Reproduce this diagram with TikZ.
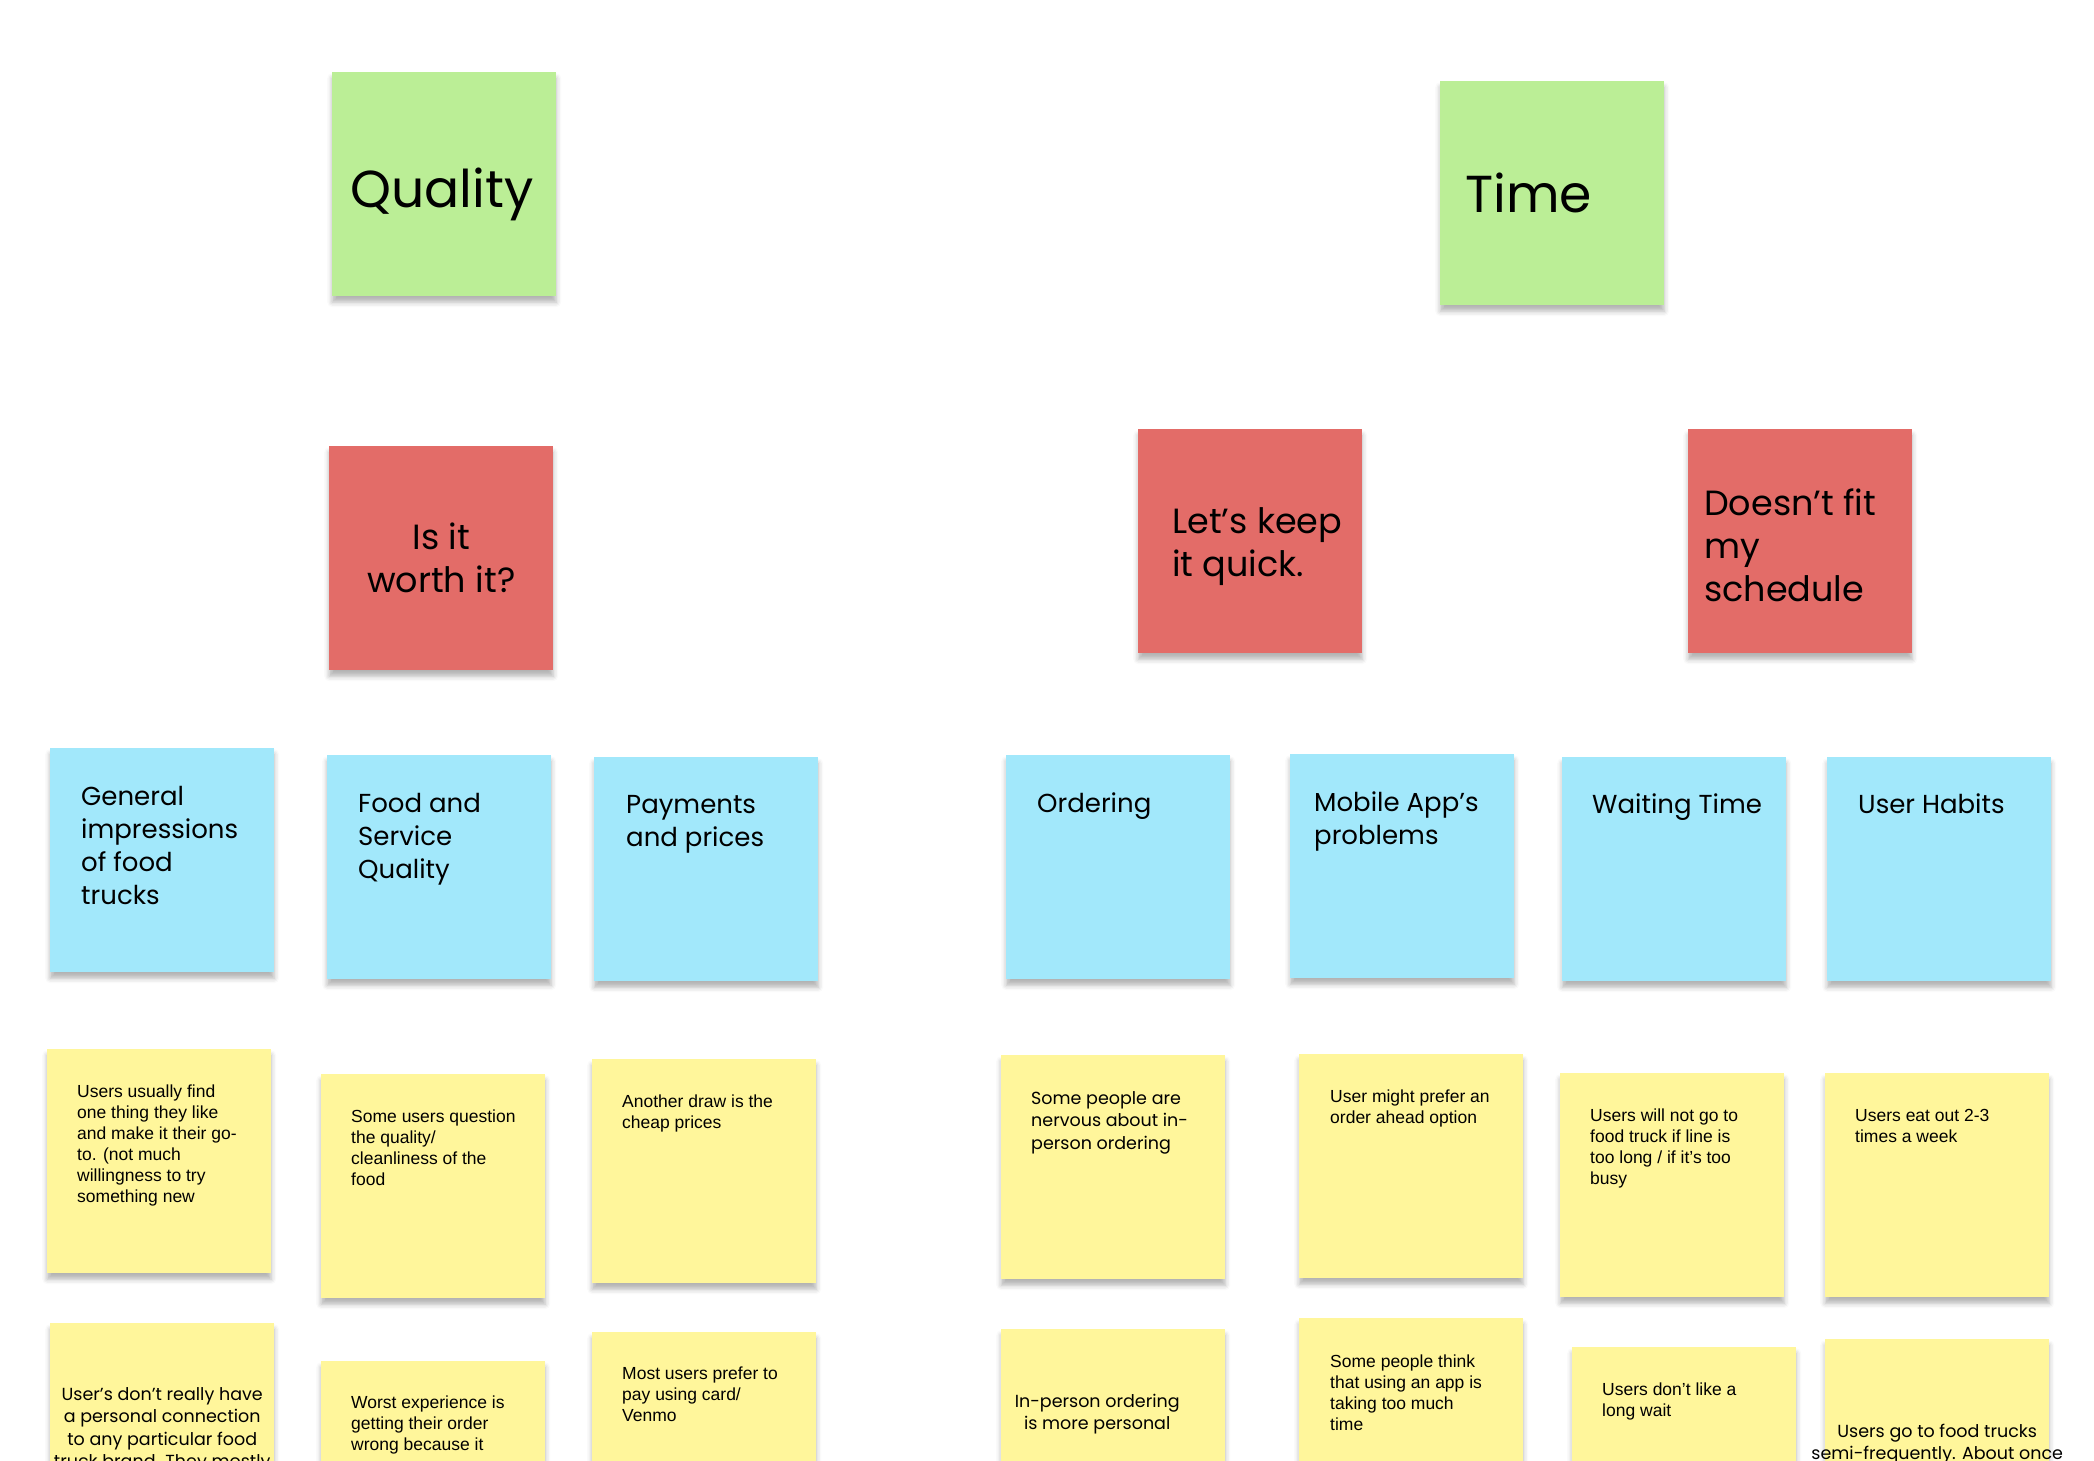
\documentclass[tikz,border=0pt]{standalone}
\usepackage{fontspec}
\usepackage{tikz}
\usetikzlibrary{positioning, shadows.blur}

\newfontfamily\mont{Poppins}
\newfontfamily\robo{Liberation Sans}

\definecolor{stickygreen}{HTML}{BBEE96}
\definecolor{stickyred}{HTML}{E36C68}
\definecolor{stickyblue}{HTML}{A2E8FB}
\definecolor{stickyyellow}{HTML}{FFF69B}

\begin{document}
\begin{tikzpicture}[
        x=1pt, y=-1pt,
        sticky/.style={rectangle, anchor=north west, inner sep=0pt, minimum width=224pt, minimum height=224pt,
                       blur shadow={shadow xshift=0pt, shadow yshift=-6pt, shadow blur radius=5pt, shadow opacity=30}},
        greennote/.style={sticky, fill=stickygreen},
        rednote/.style={sticky, fill=stickyred},
        bluenote/.style={sticky, fill=stickyblue},
        yellownote/.style={sticky, fill=stickyyellow},
        words/.style={inner sep=0pt, anchor=base west, align=left},
        titletext/.style={words, font=\mont\fontsize{52}{60}\selectfont},
        questiontext/.style={words, font=\mont\fontsize{35}{43}\selectfont},
        themetext/.style={words, font=\mont\fontsize{26}{33}\selectfont},
        memotext/.style={words, font=\robo\fontsize{17.5}{21}\selectfont},
        quotetext/.style={words, font=\mont\fontsize{17.5}{22.5}\selectfont}]

    \useasboundingbox (0,0) rectangle (2094,1460);

    % Top level
    \node[greennote] (quality) at (332,72) {};
    \node[greennote] (time) at (1440,81) {};
    \node[titletext] (qualityt) at ([shift={(18,135)}]quality.north west) {Quality};
    \node[titletext] (timet) at ([shift={(25,131)}]time.north west) {Time};

    % Questions (text nodes sit on the baseline of their last line)
    \node[rednote] (worth) at (329,446) {};
    \node[rednote] (quick) at (1138,429) {};
    \node[rednote] (sched) at (1688,429) {};
    \node[questiontext, anchor=base, align=center] (wortht) at ([shift={(0,146)}]worth.north) {Is it\\worth it?};
    \node[questiontext] (quickt) at ([shift={(34,147)}]quick.north west) {Let’s keep\\it quick.};
    \node[questiontext] (schedt) at ([shift={(16,172)}]sched.north west) {Doesn’t fit\\my\\schedule};

    % Themes
    \node[bluenote] (general) at (50,748) {};
    \node[bluenote] (food) at (327,755) {};
    \node[bluenote] (pay) at (594,757) {};
    \node[bluenote] (order) at (1006,755) {};
    \node[bluenote] (app) at (1290,754) {};
    \node[bluenote] (wait) at (1562,757) {};
    \node[bluenote] (habit) at (1827,757) {};
    \node[themetext] (generalt) at ([shift={(31,156)}]general.north west) {General\\impressions\\of food\\trucks};
    \node[themetext] (foodt) at ([shift={(31,123)}]food.north west) {Food and\\Service\\Quality};
    \node[themetext] (payt) at ([shift={(32,89)}]pay.north west) {Payments\\and prices};
    \node[themetext] (ordert) at ([shift={(31,57)}]order.north west) {Ordering};
    \node[themetext] (appt) at ([shift={(24,90)}]app.north west) {Mobile App’s\\problems};
    \node[themetext] (waitt) at ([shift={(30,56)}]wait.north west) {Waiting Time};
    \node[themetext] (habitt) at ([shift={(31,56)}]habit.north west) {User Habits};

    % Notes, first row
    \node[yellownote] (goto) at (47,1049) {};
    \node[yellownote] (clean) at (321,1074) {};
    \node[yellownote] (cheap) at (592,1059) {};
    \node[yellownote] (nervous) at (1001,1055) {};
    \node[yellownote] (ahead) at (1299,1054) {};
    \node[yellownote] (line) at (1560,1073) {};
    \node[yellownote] (week) at (1825,1073) {};
    \node[memotext] (gotot) at ([shift={(30,153)}]goto.north west) {Users usually find\\one thing they like\\and make it their go-\\to. (not much\\willingness to try\\something new};
    \node[memotext] (cleant) at ([shift={(30,111)}]clean.north west) {Some users question\\the quality/\\cleanliness of the\\food};
    \node[memotext] (cheapt) at ([shift={(30,69)}]cheap.north west) {Another draw is the\\cheap prices};
    \node[quotetext] (nervoust) at ([shift={(30,94)}]nervous.north west) {Some people are\\nervous about in-\\person ordering};
    \node[memotext] (aheadt) at ([shift={(31,69)}]ahead.north west) {User might prefer an\\order ahead option};
    \node[memotext] (linet) at ([shift={(30,111)}]line.north west) {Users will not go to\\food truck if line is\\too long / if it’s too\\busy};
    \node[memotext] (weekt) at ([shift={(30,69)}]week.north west) {Users eat out 2-3\\times a week};

    % Notes, second row
    \node[yellownote] (brand) at (50,1323) {};
    \node[yellownote] (wrong) at (321,1361) {};
    \node[yellownote] (card) at (592,1332) {};
    \node[yellownote] (personal) at (1001,1329) {};
    \node[yellownote] (slow) at (1299,1318) {};
    \node[yellownote] (longwait) at (1572,1347) {};
    \node[yellownote] (often) at (1825,1339) {};
    \node[quotetext, anchor=base, align=center] (brandt) at ([shift={(0,144.5)}]brand.north) {User’s don’t really have\\a personal connection\\to any particular food\\truck brand. They mostly};
    \node[memotext] (wrongt) at ([shift={(30,89)}]wrong.north west) {Worst experience is\\getting their order\\wrong because it};
    \node[memotext] (cardt) at ([shift={(30,89)}]card.north west) {Most users prefer to\\pay using card/\\Venmo};
    \node[quotetext, anchor=base, align=center] (personalt) at ([shift={(-16,100.5)}]personal.north) {In-person ordering\\is more personal};
    \node[memotext] (slowt) at ([shift={(31,112)}]slow.north west) {Some people think\\that using an app is\\taking too much\\time};
    \node[memotext] (longwaitt) at ([shift={(30,69)}]longwait.north west) {Users don’t like a\\long wait};
    \node[quotetext, anchor=base, align=center] (oftent) at ([shift={(0,120.5)}]often.north) {Users go to food trucks\\semi-frequently. About once};

\end{tikzpicture}
\end{document}
